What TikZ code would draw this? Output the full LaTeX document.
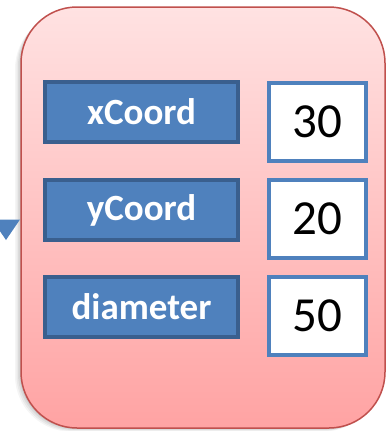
\documentclass[tikz,border=0pt]{standalone}
\usepackage{fontspec}
\setmainfont{Carlito}
\usetikzlibrary{shadows}
\definecolor{accblue}{HTML}{4F81BD}
\definecolor{darkblue}{HTML}{3A5F8E}
\definecolor{boxred}{HTML}{C0504D}
\definecolor{pinktop}{HTML}{FFE2E2}
\definecolor{pinkbot}{HTML}{FFA3A3}
\tikzset{
  labelbox/.style={draw=darkblue, line width=4pt, fill=accblue, inner sep=0pt,
    minimum width=193pt, minimum height=60pt, text=white, font=\fontsize{37}{40}\selectfont\bfseries},
  valuebox/.style={draw=accblue, line width=4pt, fill=white, inner sep=0pt,
    minimum width=97pt, minimum height=78pt, text=black, font=\fontsize{49}{52}\selectfont},
}
\begin{document}
\begin{tikzpicture}[x=1pt,y=-1pt]
\useasboundingbox (0,0) rectangle (386,431);
\begin{scope}
\clip (0,0) rectangle (386,431);
% shadow
\foreach \o/\a in {6/0.04,4.5/0.05,3/0.06,1.5/0.07}{
  \fill[black, opacity=\a, rounded corners=56pt] (21-\o,7+\o) rectangle (385-\o,428+\o*0.6);
}
\node[draw=boxred, line width=1.5pt, top color=pinktop, bottom color=pinkbot,
  rounded corners=56pt, minimum width=364pt, minimum height=421pt, inner sep=0pt] (outer) at (203,217.5) {};
\fill[accblue] (-8,219.5) coordinate (a1) -- (20,219.5) coordinate (a2) -- (6,240) coordinate (tip) -- cycle;
\end{scope}
\node[labelbox] (lx) at (141.5,112) {xCoord};
\node[labelbox] (ly) at (141.5,210) {yCoord};
\node[labelbox] (ld) at (141.5,307) {diameter};
\node[valuebox] (vx) at (317.5,121.5) {30};
\node[valuebox] (vy) at (317.5,219) {20};
\node[valuebox] (vd) at (317.5,315.5) {50};
\end{tikzpicture}
\end{document}
